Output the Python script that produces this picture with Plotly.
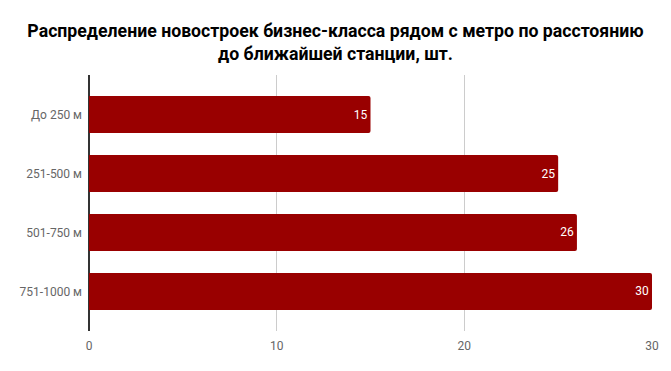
import plotly.graph_objects as go

categories = ["До 250 м", "251-500 м", "501-750 м", "751-1000 м"]
values = [15, 25, 26, 30]
x_ticks = [0, 10, 20, 30]
title_text = "Распределение новостроек бизнес-класса рядом с метро по расстоянию<br>до ближайшей станции, шт."

fig = go.Figure()
fig.add_trace(go.Bar(
    y=categories, x=values, orientation="h",
    marker=dict(color="#990000", line=dict(width=0), cornerradius=2),
    width=0.63,
    text=[str(v) for v in values], textposition="inside",
    insidetextanchor="end",
    textfont=dict(color="white", size=12, family="Roboto"),
    cliponaxis=False,
))

# page body has an 8px margin: figure is sized/offset to compensate
fig.update_layout(
    width=655, height=355,
    margin=dict(l=81, r=11, t=67, b=32, autoexpand=False),
    paper_bgcolor="white", plot_bgcolor="white",
    font=dict(family="Roboto", color="#666666", size=12),
    title=dict(text=title_text, x=0.5, xanchor="center", xref="container",
               y=0.918, yanchor="top", yref="container",
               font=dict(family="Roboto", size=17.7, color="#000000", weight="bold")),
    showlegend=False,
    uniformtext=dict(minsize=8, mode="show"),
)
fig.update_xaxes(range=[0, 30], tickvals=x_ticks, showgrid=True, gridcolor="#cccccc",
                 gridwidth=1, zeroline=True, zerolinecolor="#333333", zerolinewidth=1.5,
                 showline=False, ticks="", tickfont=dict(size=12, color="#666666"),
                 ticklabelstandoff=6, automargin=False)
fig.update_yaxes(range=[3.67, -0.67], showgrid=False, ticks="", showline=False,
                 tickfont=dict(size=12, color="#666666"), ticklabelstandoff=6,
                 automargin=False)

fig.write_html("out.html")
